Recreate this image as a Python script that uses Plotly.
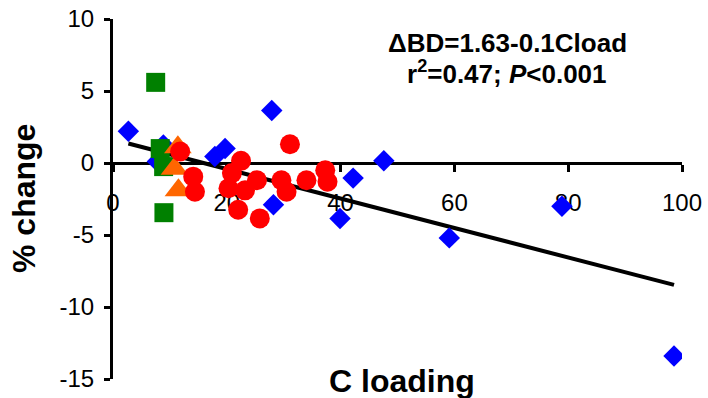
import plotly.graph_objects as go

# ---- data ----
blue_x = [2.7, 7.8, 8.85, 17.9, 19.7, 27.9, 28.2, 39.9, 42.2, 47.6, 59.1, 78.9, 98.6]
blue_y = [2.2, 0.1, 1.25, 0.45, 1.0, 3.65, -2.9, -3.85, -1.05, 0.15, -5.2, -3.0, -13.4]

green_x = [7.5, 8.3, 8.9, 8.95]
green_y = [5.6, 1.0, -0.25, -3.45]

orange_x = [11.4, 10.8, 11.5]
orange_y = [1.1, -0.4, -1.9]

red_x = [11.8, 14.1, 14.4, 20.3, 20.9, 22.5, 23.2, 22.0, 25.3, 25.8, 29.6, 30.5, 31.1, 34.0, 37.3, 37.7]
red_y = [0.8, -0.95, -2.0, -1.75, -0.7, 0.15, -1.9, -3.25, -1.2, -3.85, -1.2, -2.0, 1.3, -1.2, -0.5, -1.3]

fit_intercept = 1.63
fit_slope = -0.1024

x_ticks = [0, 20, 40, 60, 80, 100]
x_tick_labels = ["0", "20", "40", "60", "80", "100"]
y_ticks = [-15, -10, -5, 0, 5, 10]
y_tick_labels = ["-15", "-10", "-5", "0", "5", "10"]

eq_line1 = "\u0394BD=1.63-0.1Cload"
eq_line2 = "r<sup>2</sup>=0.47; <i>P</i><0.001"
x_title = "C loading"
y_title = "% change"

# ---- figure ----
W, H = 708, 398
ML, MR, MT, MB = 113, 26, 19, 19
PW, PH = W - ML - MR, H - MT - MB


def px(xp):
    return (xp - ML) / PW


def py(yp):
    return (H - MB - yp) / PH


FONT = "Liberation Sans, Arial, sans-serif"

all_x = blue_x + green_x + orange_x + red_x
fx = [min(all_x), max(all_x)]
fy = [fit_intercept + fit_slope * v for v in fx]

fig = go.Figure()
fig.add_trace(go.Scatter(x=fx, y=fy, mode="lines",
                         line=dict(color="black", width=4), hoverinfo="skip"))
fig.add_trace(go.Scatter(x=blue_x, y=blue_y, mode="markers",
                         marker=dict(symbol="diamond", size=16.5, color="#0000FF")))
fig.add_trace(go.Scatter(x=green_x, y=green_y, mode="markers",
                         marker=dict(symbol="square", size=19, color="#008000")))
fig.add_trace(go.Scatter(x=orange_x, y=orange_y, mode="markers",
                         marker=dict(symbol="triangle-up", size=24, color="#FF6600")))
fig.add_trace(go.Scatter(x=red_x, y=red_y, mode="markers",
                         marker=dict(symbol="circle", size=20, color="#FF0000")))

y_min, y_max = -15, 10
fig.update_layout(
    template="none",
    width=W, height=H,
    margin=dict(l=ML, r=MR, t=MT, b=MB, pad=0),
    paper_bgcolor="white", plot_bgcolor="white",
    showlegend=False,
    font=dict(family=FONT, color="black"),
    xaxis=dict(range=[0, 100], tickvals=x_ticks, ticktext=x_tick_labels,
               ticks="outside", ticklen=7,
               tickwidth=3, tickcolor="black", showline=True, linewidth=3,
               linecolor="black", showgrid=False, zeroline=False,
               anchor="free", position=(0 - y_min) / (y_max - y_min),
               tickfont=dict(size=24, family=FONT), ticklabelstandoff=10,
               automargin=False, layer="below traces"),
    yaxis=dict(range=[y_min, y_max], tickvals=y_ticks, ticktext=y_tick_labels,
               ticks="outside", ticklen=6,
               tickwidth=3, tickcolor="black", showline=True, linewidth=3,
               linecolor="black", showgrid=False, zeroline=False,
               tickfont=dict(size=24, family=FONT), ticklabelstandoff=5,
               automargin=False, layer="below traces"),
    annotations=[
        dict(text="<b>" + eq_line1 + "</b>", xref="paper", yref="paper",
             x=px(507), y=py(43), xanchor="center", yanchor="middle",
             showarrow=False, font=dict(size=26, family=FONT)),
        dict(text="<b>" + eq_line2 + "</b>", xref="paper", yref="paper",
             x=px(507), y=py(72), xanchor="center", yanchor="middle",
             showarrow=False, font=dict(size=26, family=FONT)),
        dict(text="<b>" + x_title + "</b>", xref="paper", yref="paper",
             x=px(402), y=py(381), xanchor="center", yanchor="middle",
             showarrow=False, font=dict(size=32, family=FONT)),
        dict(text="<b>" + y_title + "</b>", xref="paper", yref="paper",
             x=px(24), y=py(199), xanchor="center", yanchor="middle",
             textangle=-90, showarrow=False, font=dict(size=32, family=FONT)),
    ],
)

fig.write_html("out.html")
